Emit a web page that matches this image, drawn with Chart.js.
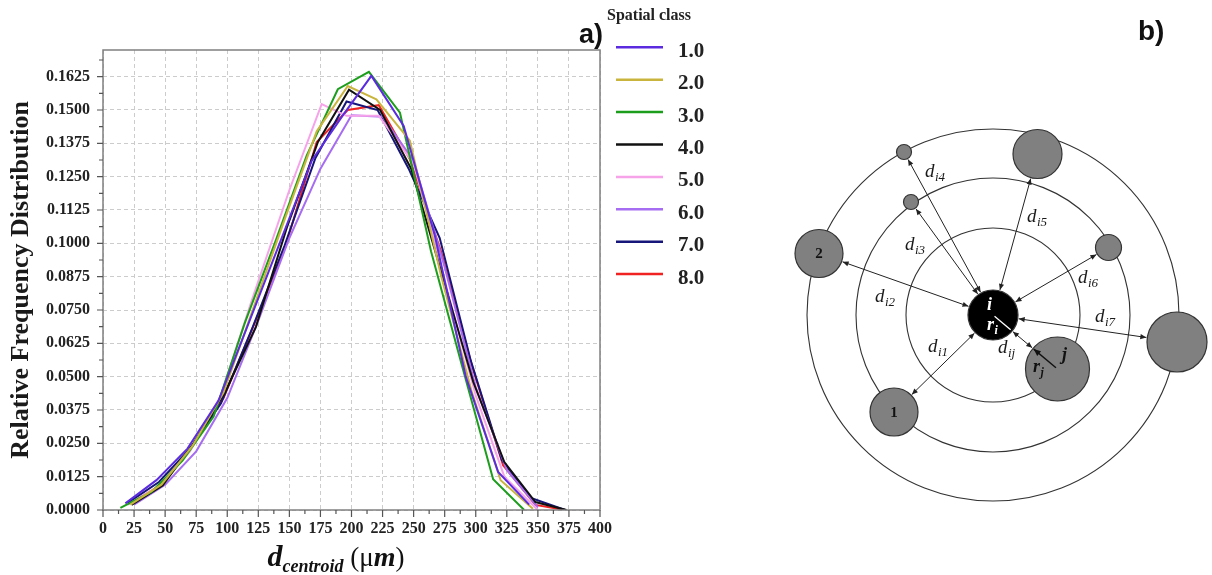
<!DOCTYPE html>
<html>
<head>
<meta charset="utf-8">
<script src="https://cdn.jsdelivr.net/npm/chart.js@4/dist/chart.umd.min.js"></script>
<style>
  html, body { margin: 0; padding: 0; background: #ffffff; }
  #wrap { position: relative; width: 1212px; height: 575px; overflow: hidden; background: #ffffff; }
  #distChart { position: absolute; left: 0; top: 0; }
  #sketchChart { position: absolute; left: 720px; top: 0; }
</style>
</head>
<body>
<div id="wrap">
  <canvas id="distChart" width="720" height="575"></canvas>
  <canvas id="sketchChart" width="492" height="575"></canvas>
</div>
<script>
// ---------- a) relative frequency of centroid distance per spatial class ----------
const classLabels = ['1.0', '2.0', '3.0', '4.0', '5.0', '6.0', '7.0', '8.0'];

const dClass1 = [18, 43, 68, 93, 118, 143, 168, 193, 216, 242, 267, 292, 318, 343];
const fClass1 = [0.0025, 0.0112, 0.023, 0.041, 0.071, 0.101, 0.131, 0.148, 0.1628, 0.144, 0.103, 0.050, 0.0143, 0.002];

const dClass2 = [22, 47, 72, 97, 122, 147, 172, 197, 220, 247, 272, 297, 320, 346];
const fClass2 = [0.002, 0.0095, 0.024, 0.044, 0.077, 0.110, 0.142, 0.159, 0.154, 0.1385, 0.088, 0.044, 0.0112, 0.0005];

const dClass3 = [14, 39, 64, 89, 114, 139, 164, 189, 214, 239, 264, 289, 314, 339];
const fClass3 = [0.0008, 0.0068, 0.0185, 0.035, 0.070, 0.101, 0.133, 0.1578, 0.1643, 0.149, 0.097, 0.054, 0.0115, 0.0];

const dClass4 = [23, 48, 73, 98, 123, 148, 173, 198, 223, 248, 273, 298, 323, 348, 373];
const fClass4 = [0.0019, 0.0092, 0.025, 0.044, 0.0686, 0.106, 0.138, 0.1576, 0.150, 0.128, 0.088, 0.048, 0.018, 0.003, 0.0];

const dClass5 = [20, 45, 70, 95, 120, 150, 176, 196, 222, 250, 275, 300, 323, 350];
const fClass5 = [0.002, 0.009, 0.022, 0.043, 0.079, 0.120, 0.1522, 0.1478, 0.1478, 0.130, 0.086, 0.043, 0.0125, 0.0];

const dClass6 = [25, 50, 75, 100, 125, 150, 175, 200, 225, 250, 275, 300, 325, 350];
const fClass6 = [0.002, 0.0095, 0.022, 0.042, 0.071, 0.102, 0.128, 0.148, 0.1475, 0.131, 0.091, 0.046, 0.015, 0.001];

const dClass7 = [20, 45, 70, 95, 120, 146, 171, 196, 221, 246, 271, 296, 321, 345, 372];
const fClass7 = [0.0027, 0.0105, 0.023, 0.040, 0.068, 0.099, 0.132, 0.1532, 0.150, 0.128, 0.102, 0.056, 0.0187, 0.0044, 0.0];

const dClass8 = [22, 47, 72, 97, 122, 147, 172, 197, 222, 247, 272, 297, 322, 348, 372];
const fClass8 = [0.0025, 0.0095, 0.024, 0.042, 0.070, 0.099, 0.138, 0.150, 0.1518, 0.1315, 0.097, 0.054, 0.0168, 0.0019, 0.0];

const xTicks = [0, 25, 50, 75, 100, 125, 150, 175, 200, 225, 250, 275, 300, 325, 350, 375, 400];
const xMinorTicks = [12.5, 37.5, 62.5, 87.5, 112.5, 137.5, 162.5, 187.5, 212.5, 237.5, 262.5, 287.5, 312.5, 337.5, 362.5, 387.5];
const yTicks = [0, 0.0125, 0.025, 0.0375, 0.05, 0.0625, 0.075, 0.0875, 0.1, 0.1125, 0.125, 0.1375, 0.15, 0.1625];
const yMinorTicks = [0.00625, 0.01875, 0.03125, 0.04375, 0.05625, 0.06875, 0.08125, 0.09375, 0.10625, 0.11875, 0.13125, 0.14375, 0.15625, 0.16875];

const classColors = ['#5b2be0', '#c9b53e', '#1c9e1c', '#111111', '#f7a3ea', '#a66cf2', '#16167a', '#f02222'];

const seriesX = [dClass1, dClass2, dClass3, dClass4, dClass5, dClass6, dClass7, dClass8];
const seriesY = [fClass1, fClass2, fClass3, fClass4, fClass5, fClass6, fClass7, fClass8];

const SERIF = '"Liberation Serif", "Times New Roman", serif';
const SANS = '"Liberation Sans", Arial, sans-serif';

// frame, tick marks, legend, panel tag and axis title
const distDecor = {
  id: 'distDecor',
  afterDraw(chart) {
    const ctx = chart.ctx;
    const area = chart.chartArea;
    const sx = chart.scales.x, sy = chart.scales.y;
    ctx.save();

    // plot frame
    ctx.strokeStyle = '#808080';
    ctx.lineWidth = 1.5;
    ctx.strokeRect(area.left, area.top, area.right - area.left, area.bottom - area.top);

    // tick marks
    ctx.strokeStyle = '#555555';
    ctx.lineWidth = 1.2;
    ctx.beginPath();
    xTicks.forEach(v => { const p = sx.getPixelForValue(v); ctx.moveTo(p, area.bottom); ctx.lineTo(p, area.bottom + 7); });
    xMinorTicks.forEach(v => { const p = sx.getPixelForValue(v); ctx.moveTo(p, area.bottom); ctx.lineTo(p, area.bottom + 4); });
    yTicks.forEach(v => { const p = sy.getPixelForValue(v); ctx.moveTo(area.left - 6, p); ctx.lineTo(area.left, p); });
    yMinorTicks.forEach(v => { const p = sy.getPixelForValue(v); ctx.moveTo(area.left - 4, p); ctx.lineTo(area.left, p); });
    ctx.stroke();

    // panel tag
    ctx.fillStyle = '#111111';
    ctx.font = 'bold 27px ' + SANS;
    ctx.textBaseline = 'alphabetic';
    ctx.textAlign = 'left';
    ctx.fillText('a)', 579, 43);

    // legend
    ctx.fillStyle = '#222222';
    ctx.font = 'bold 16px ' + SERIF;
    ctx.fillText('Spatial class', 607, 20);
    chart.data.datasets.forEach((ds, k) => {
      const y = 47.3 + k * 32.4;
      ctx.strokeStyle = ds.borderColor;
      ctx.lineWidth = 2.5;
      ctx.beginPath();
      ctx.moveTo(616, y);
      ctx.lineTo(663, y);
      ctx.stroke();
      ctx.fillStyle = '#222222';
      ctx.font = 'bold 21px ' + SERIF;
      ctx.fillText(ds.label, 678, y + 9.5);
    });

    // x axis title: d_centroid (μm)
    const parts = [
      { text: 'd', font: 'italic bold 30px ' + SERIF, dy: 0 },
      { text: 'centroid', font: 'italic bold 18px ' + SERIF, dy: 6 },
      { text: ' (', font: '27px ' + SERIF, dy: 0 },
      { text: 'μ', font: '27px ' + SERIF, dy: 0 },
      { text: 'm', font: 'italic bold 28px ' + SERIF, dy: 0 },
      { text: ')', font: '27px ' + SERIF, dy: 0 }
    ];
    let total = 0;
    parts.forEach(p => { ctx.font = p.font; p.w = ctx.measureText(p.text).width; total += p.w; });
    let x = 336 - total / 2;
    const base = 566;
    ctx.fillStyle = '#111111';
    parts.forEach(p => { ctx.font = p.font; ctx.fillText(p.text, x, base + p.dy); x += p.w; });

    ctx.restore();
  }
};

const distChart = new Chart(document.getElementById('distChart'), {
  type: 'line',
  data: {
    datasets: classLabels.map((label, k) => ({
      label: label,
      data: seriesX[k].map((d, n) => ({ x: d, y: seriesY[k][n] })),
      borderColor: classColors[k],
      backgroundColor: classColors[k],
      borderWidth: 2,
      pointRadius: 0,
      tension: 0,
      fill: false
    }))
  },
  options: {
    responsive: false,
    animation: false,
    devicePixelRatio: 1,
    events: [],
    layout: { padding: { top: 50, right: 120, left: 0, bottom: 0 } },
    plugins: { legend: { display: false }, tooltip: { enabled: false } },
    scales: {
      x: {
        type: 'linear',
        min: 0,
        max: 400,
        afterBuildTicks: axis => { axis.ticks = xTicks.map(v => ({ value: v })); },
        afterFit: scale => { scale.height = 65; },
        grid: { color: '#cccccc', lineWidth: 1, drawTicks: false },
        border: { display: false, dash: [4, 3] },
        ticks: {
          padding: 9,
          color: '#222222',
          autoSkip: false,
          maxRotation: 0,
          font: { family: SERIF, weight: 'bold', size: 16 },
          callback: v => String(v)
        }
      },
      y: {
        type: 'linear',
        min: 0,
        max: 0.1725,
        afterBuildTicks: axis => { axis.ticks = yTicks.map(v => ({ value: v })); },
        afterFit: scale => { scale.width = 103; },
        grid: { color: '#cccccc', lineWidth: 1, drawTicks: false },
        border: { display: false, dash: [4, 3] },
        ticks: {
          padding: 13,
          color: '#222222',
          autoSkip: false,
          font: { family: SERIF, weight: 'bold', size: 16 },
          callback: v => Number(v).toFixed(4)
        },
        title: {
          display: true,
          text: 'Relative Frequency Distribution',
          color: '#1a1a1a',
          font: { family: SERIF, weight: 'bold', size: 26 },
          padding: { top: 6, bottom: 0 }
        }
      }
    }
  },
  plugins: [distDecor]
});

// ---------- b) particle i and its neighbours on concentric shells ----------
const particleNames = ['i', 'j', '1', '2', '3', '4', '5', '6', '7'];
const particleX = [0, 64.5, -99, -174, -82, -89, 44.5, 115.5, 184];
const particleY = [0, -54, -97, 61.5, 113, 163, 161, 67.5, -27];
const particleR = [25, 32, 24, 24, 7.5, 7.5, 24.5, 13, 30];
const shellR = [87, 137, 186];

function unitToPx(chart, r) {
  const s = chart.scales.x;
  return Math.abs(s.getPixelForValue(r) - s.getPixelForValue(0));
}

function drawHead(ctx, tip, ux, uy, len, half) {
  ctx.beginPath();
  ctx.moveTo(tip[0], tip[1]);
  ctx.lineTo(tip[0] - ux * len - uy * half, tip[1] - uy * len + ux * half);
  ctx.lineTo(tip[0] - ux * len + uy * half, tip[1] - uy * len - ux * half);
  ctx.closePath();
  ctx.fill();
}

function drawSubscripted(ctx, base, sub, x, y, color, baseFont, subFont) {
  ctx.fillStyle = color;
  ctx.font = baseFont;
  ctx.fillText(base, x, y);
  const w = ctx.measureText(base).width;
  ctx.font = subFont;
  ctx.fillText(sub, x + w + 0.5, y + 4);
}

// distance labels: [base, subscript, x, y] in sketch units (left edge, baseline)
const distanceLabels = [
  ['d', 'i1', -65, -37],
  ['d', 'i2', -118, 13],
  ['d', 'i3', -88, 65],
  ['d', 'i4', -68, 138],
  ['d', 'i5', 34, 93],
  ['d', 'i6', 85, 32],
  ['d', 'i7', 102, -7],
  ['d', 'ij', 5, -38]
];

const sketchDecor = {
  id: 'sketchDecor',
  afterDatasetsDraw(chart) {
    const ctx = chart.ctx;
    const sx = chart.scales.x, sy = chart.scales.y;
    const P = (x, y) => [sx.getPixelForValue(x), sy.getPixelForValue(y)];
    const R = r => unitToPx(chart, r);
    ctx.save();

    const c = P(particleX[0], particleY[0]);
    const ri = R(particleR[0]);

    // double-headed distance arrows from i to each neighbour
    ctx.strokeStyle = '#222222';
    ctx.fillStyle = '#222222';
    ctx.lineWidth = 1;
    for (let k = 1; k < particleX.length; k++) {
      const q = P(particleX[k], particleY[k]);
      const dx = q[0] - c[0], dy = q[1] - c[1];
      const len = Math.hypot(dx, dy);
      const ux = dx / len, uy = dy / len;
      const rk = R(particleR[k]);
      const a = [c[0] + ux * (ri + 1), c[1] + uy * (ri + 1)];
      const b = [q[0] - ux * (rk + 1), q[1] - uy * (rk + 1)];
      ctx.beginPath();
      ctx.moveTo(a[0], a[1]);
      ctx.lineTo(b[0], b[1]);
      ctx.stroke();
      drawHead(ctx, b, ux, uy, 6, 2.6);
      drawHead(ctx, a, -ux, -uy, 6, 2.6);
    }

    // radius of i (white, inside the black particle)
    const j = P(particleX[1], particleY[1]);
    const rj = R(particleR[1]);
    {
      const dx = j[0] - c[0], dy = j[1] - c[1];
      const len = Math.hypot(dx, dy);
      const ux = dx / len, uy = dy / len;
      ctx.strokeStyle = '#ffffff';
      ctx.lineWidth = 1.3;
      ctx.beginPath();
      ctx.moveTo(c[0] + ux * 2, c[1] + uy * 2);
      ctx.lineTo(c[0] + ux * (ri - 2), c[1] + uy * (ri - 2));
      ctx.stroke();

      // radius of j, pointing back towards i
      ctx.strokeStyle = '#111111';
      ctx.fillStyle = '#111111';
      ctx.lineWidth = 1.4;
      const tip = [j[0] - ux * (rj - 1), j[1] - uy * (rj - 1)];
      ctx.beginPath();
      ctx.moveTo(j[0] - ux * 2, j[1] - uy * 2);
      ctx.lineTo(tip[0], tip[1]);
      ctx.stroke();
      drawHead(ctx, tip, -ux, -uy, 7, 3);
    }

    ctx.textAlign = 'left';
    ctx.textBaseline = 'alphabetic';
    const italic = 'italic 19px ' + SERIF;
    const italicSub = 'italic 13px ' + SERIF;

    distanceLabels.forEach(l => {
      const p = P(l[2], l[3]);
      drawSubscripted(ctx, l[0], l[1], p[0], p[1], '#1a1a1a', italic, italicSub);
    });

    // particle names
    let p = P(-6, 5);
    ctx.fillStyle = '#ffffff';
    ctx.font = 'italic bold 18px ' + SERIF;
    ctx.fillText(particleNames[0], p[0], p[1]);
    p = P(-6, -15);
    drawSubscripted(ctx, 'r', 'i', p[0], p[1], '#ffffff', 'italic bold 18px ' + SERIF, 'italic bold 12px ' + SERIF);

    p = P(69, -45);
    ctx.fillStyle = '#111111';
    ctx.font = 'italic bold 18px ' + SERIF;
    ctx.fillText(particleNames[1], p[0], p[1]);
    p = P(40, -57);
    drawSubscripted(ctx, 'r', 'j', p[0], p[1], '#111111', 'italic bold 18px ' + SERIF, 'italic bold 12px ' + SERIF);

    ctx.textAlign = 'center';
    ctx.textBaseline = 'middle';
    ctx.font = 'bold 15px ' + SERIF;
    ctx.fillStyle = '#111111';
    [2, 3].forEach(k => {
      const q = P(particleX[k], particleY[k]);
      ctx.fillText(particleNames[k], q[0], q[1] + 1);
    });

    // panel tag
    ctx.textAlign = 'left';
    ctx.textBaseline = 'alphabetic';
    ctx.font = 'bold 28px ' + SANS;
    ctx.fillStyle = '#111111';
    ctx.fillText('b)', 418, 40);

    ctx.restore();
  }
};

const sketchChart = new Chart(document.getElementById('sketchChart'), {
  type: 'scatter',
  data: {
    datasets: [
      {
        label: 'particles',
        data: particleX.map((x, k) => ({ x: x, y: particleY[k] })),
        clip: false,
        pointRadius: ctx => unitToPx(ctx.chart, particleR[ctx.dataIndex]),
        pointHoverRadius: ctx => unitToPx(ctx.chart, particleR[ctx.dataIndex]),
        pointBackgroundColor: ctx => (ctx.dataIndex === 0 ? '#000000' : '#808080'),
        pointBorderColor: '#333333',
        pointBorderWidth: 1.2
      },
      {
        label: 'shells',
        data: shellR.map(() => ({ x: 0, y: 0 })),
        clip: false,
        pointRadius: ctx => unitToPx(ctx.chart, shellR[ctx.dataIndex]),
        pointHoverRadius: ctx => unitToPx(ctx.chart, shellR[ctx.dataIndex]),
        pointBackgroundColor: 'rgba(0,0,0,0)',
        pointBorderColor: '#333333',
        pointBorderWidth: 1.1
      }
    ]
  },
  options: {
    responsive: false,
    animation: false,
    devicePixelRatio: 1,
    events: [],
    layout: { padding: 0 },
    plugins: { legend: { display: false }, tooltip: { enabled: false } },
    scales: {
      x: { type: 'linear', display: false, min: -273, max: 219 },
      y: { type: 'linear', display: false, min: -260, max: 315 }
    }
  },
  plugins: [sketchDecor]
});
</script>
</body>
</html>
